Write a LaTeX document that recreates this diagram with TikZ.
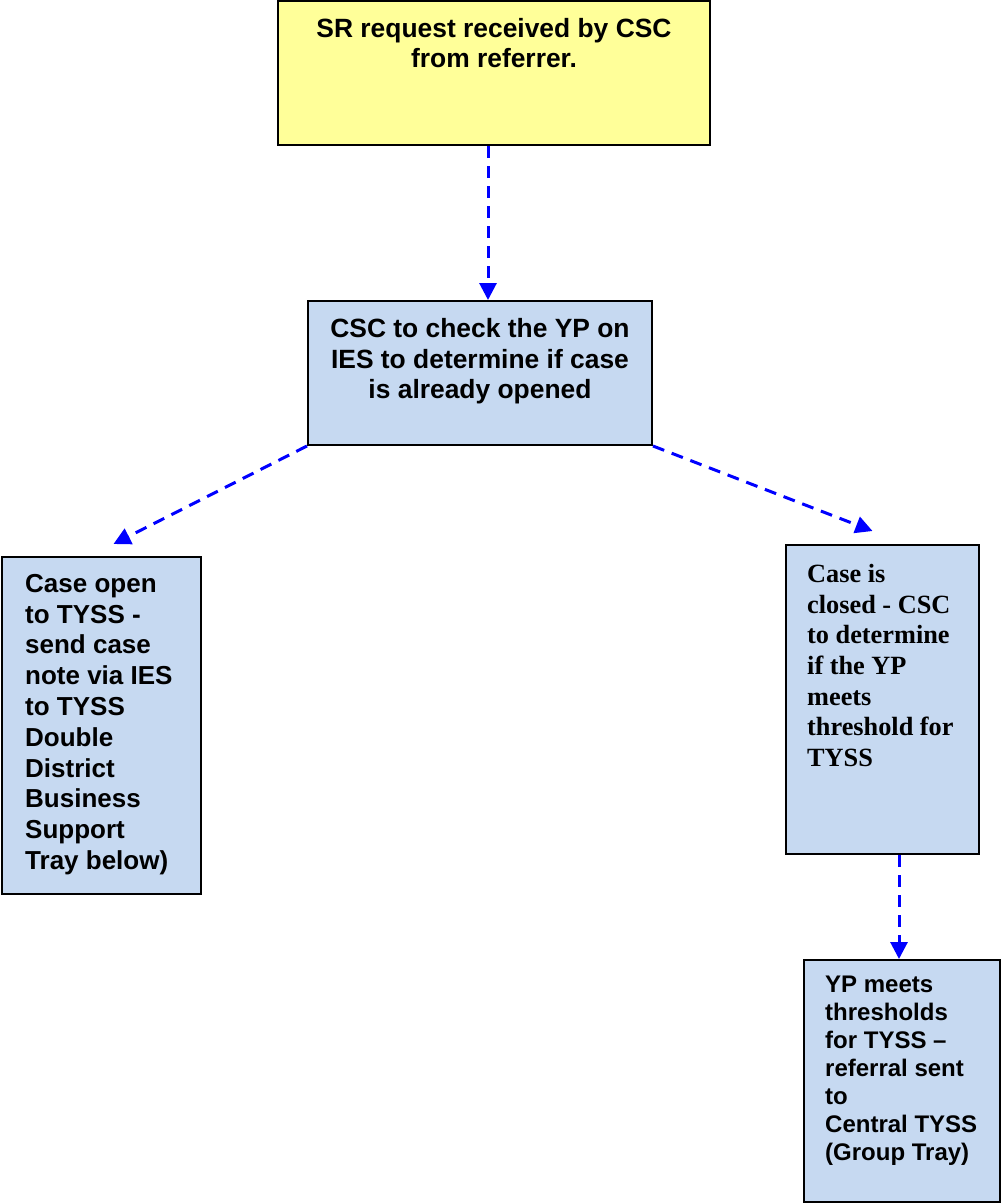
\documentclass[tikz,border=0pt]{standalone}
\usepackage{fontspec}
\setmainfont{Liberation Sans}
\newfontfamily\serifbold{Liberation Serif}
\usetikzlibrary{arrows.meta}
\definecolor{boxyellow}{RGB}{255,255,153}
\definecolor{boxblue}{RGB}{198,217,241}
\definecolor{arrowblue}{RGB}{0,0,255}
\tikzset{
  box/.style={draw=black, line width=2pt, inner sep=0pt, rectangle},
  ybox/.style={box, fill=boxyellow},
  bbox/.style={box, fill=boxblue},
  lbl/.style={inner sep=0pt, font=\bfseries\fontsize{26.4}{30.7}\selectfont},
  flow/.style={draw=arrowblue, line width=3pt, dash pattern=on 12pt off 8pt,
    -{Triangle[length=17pt,width=17pt]}}
}
\begin{document}
\begin{tikzpicture}[x=1pt,y=-1pt]
\useasboundingbox (0,0) rectangle (1001,1203);
% boxes
\node[ybox, minimum width=432pt, minimum height=144pt] (top) at (494,73) {};
\node[bbox, minimum width=344pt, minimum height=144pt] (mid) at (480,373) {};
\node[bbox, minimum width=199pt, minimum height=337pt] (left) at (101.5,725.5) {};
\node[bbox, minimum width=193pt, minimum height=309pt] (right) at (882.5,699.5) {};
\node[bbox, minimum width=196pt, minimum height=242pt] (bottom) at (902,1081) {};
% texts
\node[lbl, anchor=north, align=center, font=\bfseries\fontsize{26.4}{30}\selectfont] (toptext) at (494,18.5)
  {SR request received by CSC\\from referrer.};
\node[lbl, anchor=north, align=center] (midtext) at (480,318)
  {CSC to check the YP on\\IES to determine if case\\is already opened};
\node[lbl, anchor=north west, align=left, font=\bfseries\fontsize{26}{30.8}\selectfont] (lefttext) at (25,574)
  {Case open\\to TYSS -\\send case\\note via IES\\to TYSS\\Double\\District\\Business\\Support\\Tray below)};
\node[lbl, anchor=north west, align=left, font=\serifbold\bfseries\fontsize{26.3}{30.7}\selectfont] (righttext) at (807,564)
  {Case is\\closed - CSC\\to determine\\if the YP\\meets\\threshold for\\TYSS};
\node[lbl, anchor=north west, align=left, font=\bfseries\fontsize{24}{27.9}\selectfont] (bottomtext) at (825,976)
  {YP meets\\thresholds\\for TYSS –\\referral sent\\to\\Central TYSS\\(Group Tray)};
% connectors
\draw[flow] ([xshift=-6pt]top.south) -- ([xshift=8pt]mid.north);
\draw[flow] (mid.south west) -- ([shift={(12pt,12pt)}]left.north);
\draw[flow] (mid.south east) -- ([shift={(-10pt,13pt)}]right.north);
\draw[flow] ([xshift=16.5pt]right.south) -- ([xshift=-3pt]bottom.north);
\end{tikzpicture}
\end{document}
